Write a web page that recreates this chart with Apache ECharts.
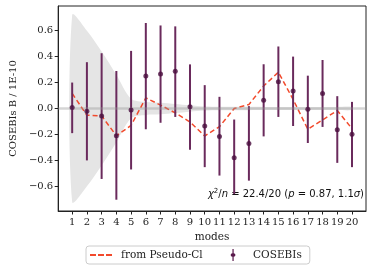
<!DOCTYPE html>
<html><head><meta charset="utf-8">
<script src="https://cdn.jsdelivr.net/npm/echarts@6/dist/echarts.min.js"></script>
<style>html,body{margin:0;padding:0;background:#fff}#c{width:373px;height:272px}</style>
</head><body><div id="c"></div>
<script>
const modes = [1,2,3,4,5,6,7,8,9,10,11,12,13,14,15,16,17,18,19,20];
const cosebis = [0.008,-0.021,-0.057,-0.21,-0.011,0.25,0.266,0.287,0.013,-0.135,-0.215,-0.38,-0.269,0.064,0.206,0.134,-0.005,0.116,-0.163,-0.199];
const errTop = [0.20,0.357,0.426,0.289,0.444,0.659,0.64,0.633,0.34,0.18,0.09,-0.085,0.018,0.341,0.478,0.40,0.253,0.374,0.095,0.051];
const errBot = [-0.19,-0.40,-0.543,-0.703,-0.47,-0.16,-0.11,-0.065,-0.318,-0.452,-0.517,-0.66,-0.556,-0.215,-0.065,-0.135,-0.266,-0.142,-0.419,-0.452];
const model = [0.116,-0.052,-0.057,-0.21,-0.13,0.082,0.026,-0.034,-0.104,-0.212,-0.14,0.0,0.031,0.173,0.28,0.07,-0.16,-0.088,-0.015,-0.155];
const bandHalf = [0.72,0.60,0.44,0.26,0.075,0.05,0.045,0.035,0.025,0.016,0.014,0.013,0.013,0.012,0.012,0.012,0.012,0.012,0.012,0.012];
const yTicks = [-0.6,-0.4,-0.2,0.0,0.2,0.4,0.6];

const serif = '"DejaVu Serif", serif';
const chart = echarts.init(document.getElementById('c'), null, {renderer: 'canvas'});
const errData = modes.map((m, i) => [m, errBot[i], errTop[i]]);
const bandData = modes.map((m, i) => [m, -bandHalf[i], bandHalf[i]]);

chart.setOption({
  animation: false,
  grid: {left: 52, top: 6, right: 7, bottom: 61, show: true, borderColor: '#222', borderWidth: 1},
  xAxis: {
    type: 'value', min: 0.05, max: 20.95,
    name: 'modes', nameLocation: 'middle', nameGap: 19,
    nameTextStyle: {fontFamily: serif, fontSize: 10.5, color: '#222'},
    axisLine: {show: true, onZero: false, lineStyle: {color: '#222'}},
    axisTick: {show: true, length: 3.5, lineStyle: {color: '#222'}, customValues: modes},
    axisLabel: {fontFamily: serif, fontSize: 10, color: '#222', margin: 6, customValues: modes},
    splitLine: {show: false}
  },
  yAxis: {
    type: 'value', min: -0.79, max: 0.79,
    name: 'COSEBIs B / 1E-10', nameLocation: 'middle', nameGap: 33,
    nameTextStyle: {fontFamily: serif, fontSize: 10, color: '#222'},
    axisLine: {show: true, onZero: false, lineStyle: {color: '#222'}},
    axisTick: {show: true, length: 3.5, lineStyle: {color: '#222'}, customValues: yTicks},
    axisLabel: {fontFamily: serif, fontSize: 10, color: '#222', margin: 5, customValues: yTicks,
      formatter: v => (v < 0 ? '\u2212' + Math.abs(v).toFixed(1) : v.toFixed(1))},
    splitLine: {show: false}
  },
  legend: {
    left: 86, top: 246, width: 215,
    data: [
      {name: 'from Pseudo-Cl', icon: 'path://M0,5 L6,5 L6,7 L0,7 Z M8,5 L14,5 L14,7 L8,7 Z M16,5 L22,5 L22,7 L16,7 Z', itemStyle: {color: '#f24a2c'}},
      {name: 'COSEBIs', icon: 'path://M4,0 L6,0 L6,7 A3,3 0 0 1 6,13 L6,20 L4,20 L4,13 A3,3 0 0 1 4,7 Z'}
    ],
    itemWidth: 22, itemHeight: 12, itemGap: 28,
    padding: [3, 8, 3, 4],
    borderColor: '#ccc', borderWidth: 1, borderRadius: 3,
    textStyle: {fontFamily: serif, fontSize: 10.5, color: '#222', padding: [0,0,0,4]}
  },
  series: [
    {
      type: 'custom', name: 'band', silent: true, z: 1,
      data: bandData,
      renderItem: function (params, api) {
        if (params.dataIndex !== 0) return null;
        const up = bandData.map(d => api.coord([d[0], d[2]]));
        const lo = bandData.map(d => api.coord([d[0], d[1]])).reverse();
        return {type: 'polygon', shape: {points: up.concat(lo), smooth: 0.3},
          style: {fill: '#e5e5e5', stroke: 'none'}};
      }
    },
    {
      type: 'line', name: 'zero', silent: true, z: 2, data: [],
      markLine: {silent: true, symbol: 'none', label: {show: false},
        lineStyle: {color: 'rgba(150,150,150,0.4)', width: 2.5, type: 'solid'},
        data: [{yAxis: 0}]}
    },
    {
      type: 'line', name: 'from Pseudo-Cl', z: 3,
      data: modes.map((m, i) => [m, model[i]]),
      symbol: 'none', color: '#f24a2c',
      lineStyle: {color: '#f24a2c', width: 1.5, type: [5, 3]}
    },
    {
      type: 'custom', name: 'COSEBIs', z: 4,
      data: errData,
      renderItem: function (params, api) {
        const a = api.coord([api.value(0), api.value(1)]);
        const b = api.coord([api.value(0), api.value(2)]);
        return {type: 'line', shape: {x1: a[0], y1: a[1], x2: b[0], y2: b[1]},
          style: {stroke: '#6a2a5c', lineWidth: 2}};
      },
      color: '#5a1a4c'
    },
    {
      type: 'scatter', name: 'COSEBIs', z: 5,
      data: modes.map((m, i) => [m, cosebis[i]]),
      symbol: 'circle', symbolSize: 5,
      itemStyle: {color: '#4a0e3e'}
    }
  ],
  graphic: [{
    type: 'text', right: 9, top: 188,
    style: {
      text: '{i|χ}{s|2}{n|/}{i|n}{n| = 22.4/20 (}{i|p}{n| = 0.87, 1.1}{i|σ}{n|)}',
      rich: {
        i: {fontFamily: '"DejaVu Sans"', fontStyle: 'italic', fontSize: 10, fill: '#111'},
        n: {fontFamily: '"DejaVu Sans"', fontSize: 10, fill: '#111'},
        s: {fontFamily: '"DejaVu Sans"', fontSize: 7, fill: '#111', verticalAlign: 'top', padding: [0,0,6,0]}
      }
    }
  }]
});
</script></body></html>
